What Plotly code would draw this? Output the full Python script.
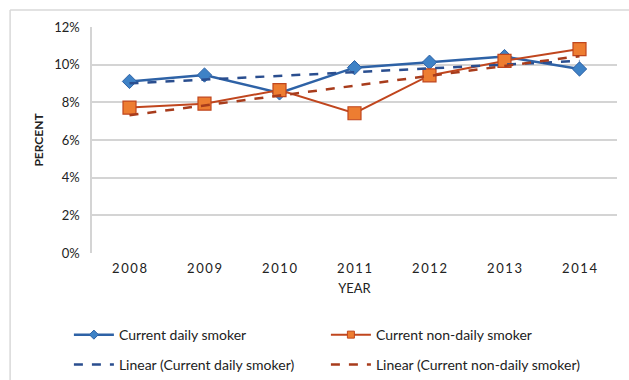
import numpy as np
import plotly.graph_objects as go

years = ["2008", "2009", "2010", "2011", "2012", "2013", "2014"]
daily = [9.11, 9.45, 8.50, 9.84, 10.13, 10.43, 9.77]
non_daily = [7.72, 7.93, 8.65, 7.42, 9.43, 10.20, 10.83]
y_ticks = [0, 2, 4, 6, 8, 10, 12]

idx = np.arange(len(years))
trend_daily = np.polyval(np.polyfit(idx, daily, 1), idx)
trend_non = np.polyval(np.polyfit(idx, non_daily, 1), idx)

FONT = "Lato, 'Open Sans', sans-serif"
spaced = ["\u2009".join(list(y)) for y in years]

BLUE_L, BLUE_M = "#2E62A6", "#3E82C6"
ORG_L, ORG_M = "#C0461E", "#ED7D31"

fig = go.Figure()
fig.add_trace(go.Scatter(
    x=years, y=daily, name="Current daily smoker", mode="lines+markers",
    line=dict(color=BLUE_L, width=2.5),
    marker=dict(symbol="diamond", size=11, color=BLUE_M, line=dict(color=BLUE_L, width=1)),
    showlegend=False))
fig.add_trace(go.Scatter(
    x=years, y=non_daily, name="Current non-daily smoker", mode="lines+markers",
    line=dict(color=ORG_L, width=2),
    marker=dict(symbol="square", size=13, color=ORG_M, line=dict(color=ORG_L, width=1.2)),
    showlegend=False))
fig.add_trace(go.Scatter(
    x=years, y=trend_daily, name="Linear (Current daily smoker)", mode="lines",
    line=dict(color="#2A4E8F", width=2.5, dash="dash"),
    legend="legend2"))
fig.add_trace(go.Scatter(
    x=years, y=trend_non, name="Linear (Current non-daily smoker)", mode="lines",
    line=dict(color="#A83C1C", width=2.5, dash="dash"),
    legend="legend2"))
# legend entries with small markers, as in the reference legend
fig.add_trace(go.Scatter(
    x=[None], y=[None], name="Current daily smoker", mode="lines+markers",
    line=dict(color=BLUE_L, width=2.5),
    marker=dict(symbol="diamond", size=7, color=BLUE_M, line=dict(color=BLUE_L, width=1)),
    legend="legend"))
fig.add_trace(go.Scatter(
    x=[None], y=[None], name="Current non-daily smoker", mode="lines+markers",
    line=dict(color=ORG_L, width=2),
    marker=dict(symbol="square", size=7, color=ORG_M, line=dict(color=ORG_L, width=1)),
    legend="legend"))

fig.update_layout(
    width=629, height=380,
    margin=dict(l=92, r=12, t=27, b=127, autoexpand=False),
    paper_bgcolor="white", plot_bgcolor="white",
    font=dict(family=FONT, size=13, color="#222222"),
    xaxis=dict(
        type="category", range=[-0.5, 6.5], tickvals=years, ticktext=spaced,
        showgrid=False, zeroline=False, showline=False, ticks="",
        ticklabelstandoff=6,
        tickfont=dict(size=13, color="#222"),
        title=dict(text="YEAR", font=dict(size=13), standoff=8),
    ),
    yaxis=dict(
        range=[0, 12], tickvals=y_ticks, ticktext=[f"{v}%" for v in y_ticks],
        showgrid=True, gridcolor="#D4D4D4", gridwidth=1.5, zeroline=False,
        showline=True, linecolor="#D4D4D4", linewidth=1.5, ticks="",
        ticklabelstandoff=8,
        tickfont=dict(size=13, color="#222"),
        title=dict(text="<b>PERCENT</b>", font=dict(size=12), standoff=8),
    ),
    legend=dict(orientation="h", x=-0.044, xanchor="left",
                y=-0.363, yanchor="middle",
                entrywidth=202, entrywidthmode="pixels", font=dict(size=14),
                bgcolor="rgba(0,0,0,0)", itemwidth=40),
    legend2=dict(orientation="h", x=-0.044, xanchor="left",
                 y=-0.495, yanchor="middle",
                 entrywidth=202, entrywidthmode="pixels", font=dict(size=14),
                 bgcolor="rgba(0,0,0,0)", itemwidth=40),
    shapes=[
        dict(type="line", xref="paper", yref="paper", x0=-0.156, x1=1.05, y0=1.075, y1=1.075,
             line=dict(color="#D9D9D9", width=1.5)),
        dict(type="line", xref="paper", yref="paper", x0=-0.156, x1=-0.156, y0=1.075, y1=-0.7,
             line=dict(color="#D9D9D9", width=1.5)),
    ],
)

fig.write_html("out.html")
